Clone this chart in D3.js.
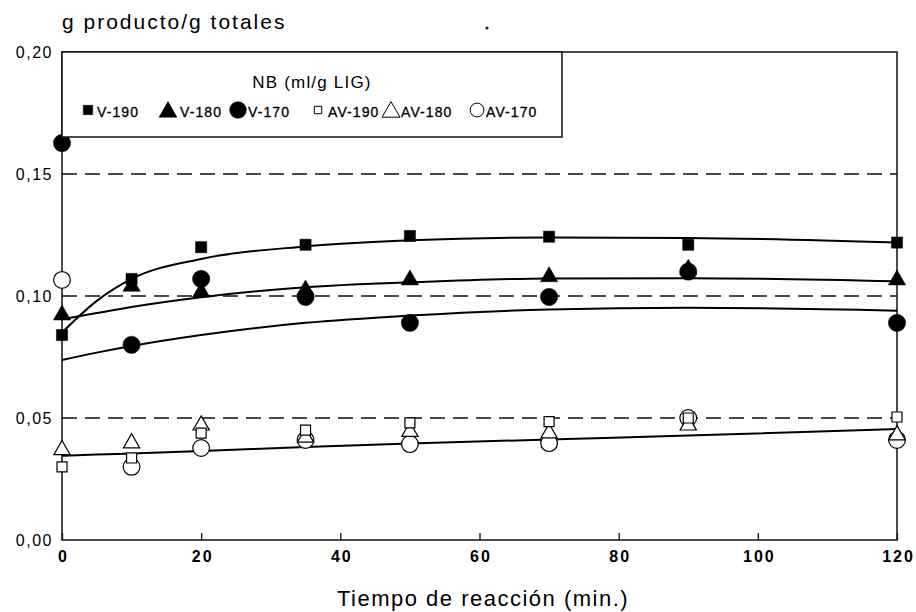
<!DOCTYPE html>
<html><head><meta charset="utf-8">
<script src="https://cdn.jsdelivr.net/npm/d3@7"></script>
<style>body{margin:0;background:#fff}svg{display:block}text{font-family:"Liberation Sans",Arial,sans-serif;fill:#000}</style>
</head><body><svg id="c" width="916" height="612"></svg>
<script>
// Data (x = reaction time, min; y = g producto / g totales)
const times = [0, 10, 20, 35, 50, 70, 90, 120];
const v190  = [0.084, 0.107, 0.120, 0.121, 0.1246, 0.1243, 0.121, 0.1219];
const v180  = [0.0922, 0.104, 0.1016, 0.1025, 0.1066, 0.1079, 0.111, 0.1066];
const v170  = [0.1627, 0.080, 0.107, 0.0996, 0.089, 0.0996, 0.110, 0.089];
const av190 = [0.030, 0.0336, 0.0438, 0.045, 0.048, 0.0485, 0.050, 0.0504];
const av180 = [0.0369, 0.0397, 0.047, 0.042, 0.0444, 0.0438, 0.047, 0.043];
const av170 = [0.1066, 0.030, 0.0377, 0.041, 0.0393, 0.0397, 0.050, 0.041];
// fitted curves
const fitTimes = [0, 5, 10, 20, 35, 50, 70, 90, 120];
const fitV190  = [0.085, 0.098, 0.107, 0.1152, 0.1203, 0.1228, 0.1240, 0.1238, 0.1219];
const fitV180  = [0.0905, 0.093, 0.0955, 0.0995, 0.1036, 0.1056, 0.1072, 0.1073, 0.1060];
const fitV170  = [0.0738, 0.0768, 0.0795, 0.0840, 0.0890, 0.0920, 0.0945, 0.0952, 0.0940];
const fitAV    = [0.0345, 0.0350, 0.0355, 0.0365, 0.0381, 0.0395, 0.0412, 0.0428, 0.0455];
const xTicks = [0, 20, 40, 60, 80, 100, 120];
const yTicks = [0, 0.05, 0.10, 0.15, 0.20];
const legendLabels = ["V-190", "V-180", "V-170", "AV-190", "AV-180", "AV-170"];

const svg = d3.select("#c");
const x = d3.scaleLinear().domain([0, 120]).range([62, 897]);
const y = d3.scaleLinear().domain([0, 0.20]).range([540, 52]);

// dashed grid lines
svg.append("g").selectAll("line").data([0.05, 0.10, 0.15]).join("line")
  .attr("x1", x(0)).attr("x2", x(120)).attr("y1", d => y(d)).attr("y2", d => y(d))
  .attr("stroke", "#111").attr("stroke-width", 1.3).attr("stroke-dasharray", "15,8");

// frame
svg.append("rect").attr("x", x(0)).attr("y", y(0.2)).attr("width", x(120) - x(0)).attr("height", y(0) - y(0.2))
  .attr("fill", "none").attr("stroke", "#111").attr("stroke-width", 1.5);

// axes
const xAxis = d3.axisBottom(x).tickValues(xTicks).tickSize(-7).tickPadding(11).tickFormat(d3.format("d"));
const gx = svg.append("g").attr("transform", `translate(0,${y(0)})`).call(xAxis);
gx.select(".domain").remove();
gx.selectAll("line").attr("stroke", "#111").attr("stroke-width", 1.3);
gx.selectAll("text").attr("font-size", 16).attr("font-weight", "bold").attr("letter-spacing", 2)
  .attr("dx", 1).style("font-family", "'Liberation Sans',Arial,sans-serif").attr("fill", "#000");

const yAxis = d3.axisLeft(y).tickValues(yTicks).tickSize(0).tickPadding(9).tickFormat(d => d3.format(".2f")(d).replace(".", ","));
const gy = svg.append("g").attr("transform", `translate(${x(0)},0)`).call(yAxis);
gy.select(".domain").remove();
gy.selectAll("text").attr("font-size", 16).attr("letter-spacing", 1.5).attr("fill", "#000")
  .style("font-family", "'Liberation Sans',Arial,sans-serif");

// titles
svg.append("text").attr("x", 62).attr("y", 29).attr("font-size", 21).attr("letter-spacing", 2).text("g producto/g totales");
svg.append("text").attr("x", 483).attr("y", 606).attr("text-anchor", "middle").attr("font-size", 22)
  .attr("letter-spacing", 1.5).text("Tiempo de reacción (min.)");
svg.append("circle").attr("cx", 487).attr("cy", 28).attr("r", 1.6).attr("fill", "#222");

// fitted curves
const line = d3.line().x((d, i) => x(fitTimes[i])).y(d => y(d)).curve(d3.curveMonotoneX);
[fitV190, fitV180, fitV170, fitAV].forEach(s => {
  svg.append("path").attr("d", line(s)).attr("fill", "none").attr("stroke", "#000").attr("stroke-width", 2);
});

// markers
const sym = {
  square: d3.symbol().type(d3.symbolSquare),
  triangle: d3.symbol().type(d3.symbolTriangle),
  circle: d3.symbol().type(d3.symbolCircle)
};
const series = [
  {vals: av170, type: "circle", size: 220, fill: false},
  {vals: av180, type: "triangle", size: 115, fill: false},
  {vals: av190, type: "square", size: 100, fill: false},
  {vals: v170, type: "circle", size: 235, fill: true},
  {vals: v180, type: "triangle", size: 130, fill: true},
  {vals: v190, type: "square", size: 125, fill: true}
];
series.forEach(s => {
  svg.append("g").selectAll("path").data(s.vals).join("path")
    .attr("d", sym[s.type].size(s.size)())
    .attr("transform", (d, i) => `translate(${x(times[i])},${y(d)})`)
    .attr("fill", s.fill ? "#000" : "#fff")
    .attr("stroke", "#000").attr("stroke-width", s.fill ? 0.5 : 1.2);
});

// legend box
const lg = svg.append("g");
lg.append("rect").attr("x", x(0)).attr("y", y(0.2)).attr("width", 500).attr("height", 85)
  .attr("fill", "#fff").attr("stroke", "#111").attr("stroke-width", 1.5);
lg.append("text").attr("x", 312).attr("y", 88).attr("text-anchor", "middle").attr("font-size", 17)
  .attr("letter-spacing", 1.2).text("NB (ml/g LIG)");
const legItems = [
  {type: "square", size: 90, fill: true, mx: 88, tx: 97},
  {type: "triangle", size: 140, fill: true, mx: 168, tx: 180},
  {type: "circle", size: 220, fill: true, mx: 238, tx: 248},
  {type: "square", size: 55, fill: false, mx: 318, tx: 328},
  {type: "triangle", size: 140, fill: false, mx: 391, tx: 401},
  {type: "circle", size: 150, fill: false, mx: 477, tx: 486}
];
legItems.forEach((it, i) => {
  lg.append("path").attr("d", sym[it.type].size(it.size)())
    .attr("transform", `translate(${it.mx},${it.type === "triangle" ? 112 : 110})`)
    .attr("fill", it.fill ? "#000" : "#fff").attr("stroke", "#000").attr("stroke-width", it.fill ? 0.5 : 1);
  lg.append("text").attr("x", it.tx).attr("y", 117).attr("font-size", 14)
    .attr("letter-spacing", 1.1).attr("stroke", "#000").attr("stroke-width", 0.3).text(legendLabels[i]);
});
</script></body></html>
